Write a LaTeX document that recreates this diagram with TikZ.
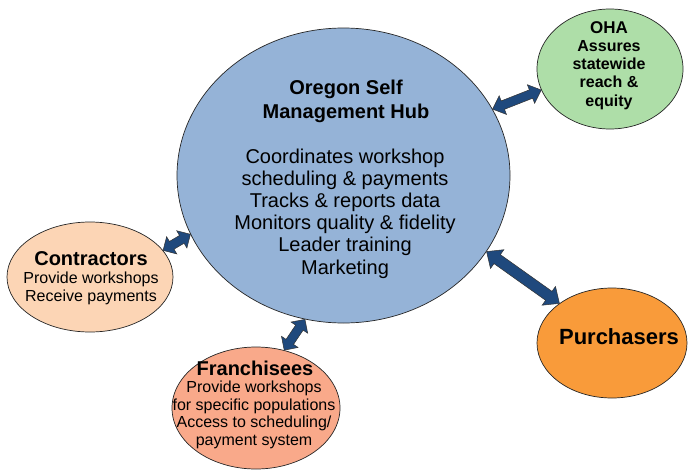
\documentclass[tikz,border=0pt]{standalone}
\usepackage{fontspec}
\setmainfont{Liberation Sans}
\usetikzlibrary{shapes.geometric,calc}

\definecolor{hubblue}{HTML}{95B3D7}
\definecolor{ohagreen}{HTML}{AEDEA8}
\definecolor{contrpeach}{HTML}{FCD5B5}
\definecolor{franchsalmon}{HTML}{F9A98A}
\definecolor{purchorange}{HTML}{F99B3A}
\definecolor{arrowblue}{HTML}{1F497D}

\tikzset{
  bubble/.style={ellipse, draw=black!85, line width=0.7pt, inner sep=0pt},
  blockarrow/.style={fill=arrowblue, draw=black!80, line width=0.5pt, line join=miter},
  title/.style={font=\bfseries\fontsize{20}{24}\selectfont, align=center, inner sep=0pt},
  body/.style={font=\fontsize{16}{18}\selectfont, align=center, inner sep=0pt},
}

% double-headed block arrow between two points:
% #1,#2 end points, #3 shaft half width, #4 head half width, #5 head length
\newcommand\dblarrow[5]{%
  \coordinate (ta) at ($(#1)!#5!(#2)$);
  \coordinate (tb) at ($(#2)!#5!(#1)$);
  \filldraw[blockarrow] (#1) -- ($(ta)!#4!90:(#2)$) -- ($(ta)!#3!90:(#2)$)
    -- ($(tb)!#3!-90:(#1)$) -- ($(tb)!#4!-90:(#1)$) -- (#2)
    -- ($(tb)!#4!90:(#1)$) -- ($(tb)!#3!90:(#1)$)
    -- ($(ta)!#3!-90:(#2)$) -- ($(ta)!#4!-90:(#2)$) -- cycle;}

\begin{document}
\begin{tikzpicture}[x=1pt,y=-1pt]
\useasboundingbox (0,0) rectangle (690,471);

% bubbles
\node[bubble, fill=hubblue, minimum width=333pt, minimum height=295pt] (hub) at (343.5,175.5) {};
\node[bubble, fill=ohagreen, minimum width=146pt, minimum height=120pt] (oha) at (610,69) {};
\node[bubble, fill=contrpeach, minimum width=166pt, minimum height=110pt] (contr) at (90,277) {};
\node[bubble, fill=franchsalmon, minimum width=168pt, minimum height=122pt] (franch) at (256,408) {};
\node[bubble, fill=purchorange, minimum width=150pt, minimum height=110pt] (purch) at (612,343) {};

% texts
\node[title] (hubtitle) at (346,101) {Oregon Self\\Management Hub};
\node[font=\fontsize{20}{22.2}\selectfont, align=center, inner sep=0pt] (hubbody) at (345,213.5)
  {Coordinates workshop\\scheduling \& payments\\Tracks \& reports data\\Monitors quality \& fidelity\\Leader training\\Marketing};

\node[font=\bfseries\fontsize{17}{18.3}\selectfont, inner sep=0pt] (ohatitle) at (609,28) {OHA};
\node[font=\bfseries\fontsize{16}{18.3}\selectfont, align=center, inner sep=0pt] (ohabody) at (609,75)
  {Assures\\statewide\\reach \&\\equity};

\node[title] (contrtitle) at (91,259) {Contractors};
\node[body] (contrbody) at (91,288.5) {Provide workshops\\Receive payments};

\node[title] (franchtitle) at (255,368) {Franchisees};
\node[font=\fontsize{16}{17.5}\selectfont, align=center, inner sep=0pt] (franchbody) at (254,415)
  {Provide workshops\\for specific populations\\Access to scheduling/\\payment system};

\node[font=\bfseries\fontsize{22}{24}\selectfont, inner sep=0pt] (purchtitle) at (619,337) {Purchasers};

% connectors
\dblarrow{hub.24}{oha.197}{4.5pt}{10pt}{11pt}
\dblarrow{hub.201.2}{contr.20.6}{4.5pt}{10pt}{10pt}
\dblarrow{hub.255.3}{franch.64.2}{4.5pt}{10pt}{10pt}
\dblarrow{hub.-28.2}{purch.143.9}{5.5pt}{11.5pt}{13pt}
\end{tikzpicture}
\end{document}
